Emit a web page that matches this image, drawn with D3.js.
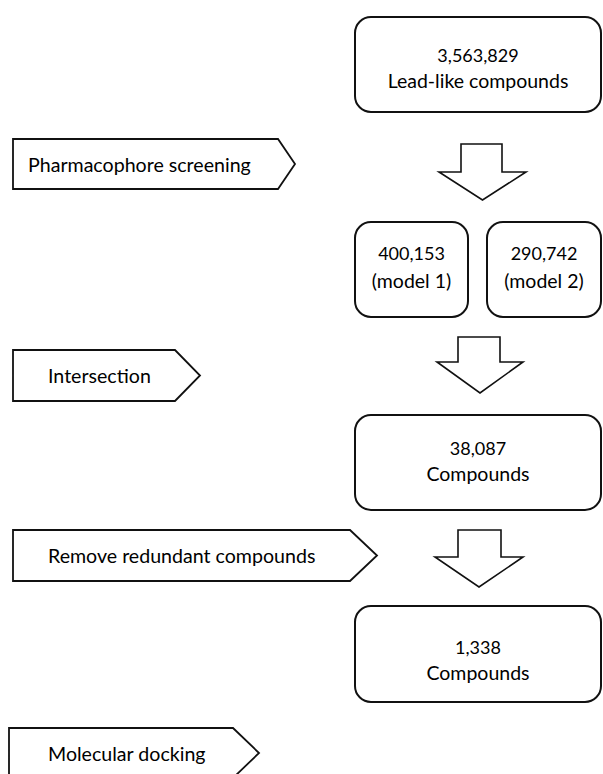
<!DOCTYPE html>
<html>
<head>
<meta charset="utf-8">
<script src="https://cdn.jsdelivr.net/npm/d3@7"></script>
<style>
  body { margin: 0; background: #fff; }
  svg { display: block; }
  text { font-family: Lato, 'Open Sans', sans-serif; fill: #000; }
</style>
</head>
<body>
<svg width="603" height="774"></svg>
<script>
// chart content
const counts = ['3,563,829', '400,153', '290,742', '38,087', '1,338'];
const countNotes = ['Lead-like compounds', '(model 1)', '(model 2)', 'Compounds', 'Compounds'];
const steps = ['Pharmacophore screening', 'Intersection', 'Remove redundant compounds', 'Molecular docking'];

// layout (pixels)
const boxLayout = [
  { x0: 355, x1: 601, y0: 17, y1: 112, t: [55, 80] },
  { x0: 355, x1: 468, y0: 222, y1: 317, t: [253, 280] },
  { x0: 487, x1: 601, y0: 222, y1: 317, t: [253, 280] },
  { x0: 355, x1: 601, y0: 415, y1: 510, t: [448, 473] },
  { x0: 355, x1: 601, y0: 606, y1: 702, t: [647, 672] },
];
const stepLayout = [
  { x0: 13, body: 278, tip: 295, y0: 139, y1: 189, tx: 28 },
  { x0: 13, body: 175, tip: 200, y0: 350, y1: 401, tx: 48 },
  { x0: 13, body: 350, tip: 377, y0: 530, y1: 581, tx: 48 },
  { x0: 9, body: 233, tip: 259, y0: 728, y1: 778, tx: 48 },
];
const downArrows = [
  { s0: 461, s1: 502, top: 144, neck: 172, h0: 439, h1: 526, tip: 200 },
  { s0: 458, s1: 500, top: 337, neck: 362, h0: 437, h1: 523, tip: 393 },
  { s0: 458, s1: 501, top: 530, neck: 557, h0: 435, h1: 523, tip: 587 },
];

const svg = d3.select('svg');
const line = d3.line();

// count boxes
const boxes = svg
  .selectAll('g.box')
  .data(counts.map((c, i) => ({ count: c, note: countNotes[i], ...boxLayout[i] })))
  .join('g')
  .attr('class', 'box');

boxes
  .append('rect')
  .attr('x', d => d.x0)
  .attr('y', d => d.y0)
  .attr('width', d => d.x1 - d.x0)
  .attr('height', d => d.y1 - d.y0)
  .attr('rx', 16)
  .attr('fill', '#fff')
  .attr('stroke', '#111')
  .attr('stroke-width', 2);

boxes
  .selectAll('text')
  .data(d => [
    { s: d.count, x: (d.x0 + d.x1) / 2, y: d.t[0], size: 18 },
    { s: d.note, x: (d.x0 + d.x1) / 2, y: d.t[1], size: 19.5 },
  ])
  .join('text')
  .attr('x', d => d.x)
  .attr('y', d => d.y)
  .attr('text-anchor', 'middle')
  .attr('dominant-baseline', 'central')
  .style('font-size', d => `${d.size}px`)
  .text(d => d.s);

// step tags on the left
const tags = svg
  .selectAll('g.step')
  .data(steps.map((s, i) => ({ label: s, ...stepLayout[i] })))
  .join('g')
  .attr('class', 'step');

tags
  .append('path')
  .attr('d', d => {
    const mid = (d.y0 + d.y1) / 2;
    return line([[d.x0, d.y0], [d.body, d.y0], [d.tip, mid], [d.body, d.y1], [d.x0, d.y1]]) + 'Z';
  })
  .attr('fill', '#fff')
  .attr('stroke', '#111')
  .attr('stroke-width', 1.8);

tags
  .append('text')
  .attr('x', d => d.tx)
  .attr('y', d => (d.y0 + d.y1) / 2)
  .attr('dominant-baseline', 'central')
  .style('font-size', '19.6px')
  .text(d => d.label);

// block arrows between boxes
svg
  .selectAll('path.down')
  .data(downArrows)
  .join('path')
  .attr('class', 'down')
  .attr('d', d => {
    const mx = (d.h0 + d.h1) / 2;
    return line([
      [d.s0, d.top], [d.s1, d.top], [d.s1, d.neck], [d.h1, d.neck],
      [mx, d.tip], [d.h0, d.neck], [d.s0, d.neck],
    ]) + 'Z';
  })
  .attr('fill', '#fff')
  .attr('stroke', '#111')
  .attr('stroke-width', 1.6)
  .attr('stroke-linejoin', 'miter');
</script>
</body>
</html>
